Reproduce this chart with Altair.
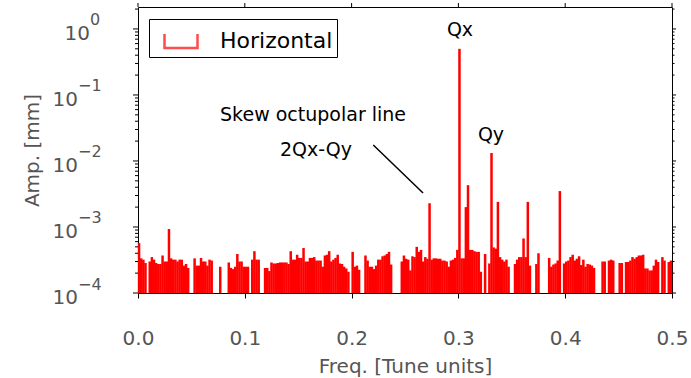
import altair as alt
import pandas as pd

# Spectrum amplitudes, in units of 1e-4 mm, one per frequency bin (0 = below the 1e-4 floor)
amp_e4 = [
    5.7, 3.35, 3.2, 2.85, 0, 3.0, 3.5, 3.2, 2.85, 2.75,
    2.75, 3.7, 3.0, 3.0, 9.3, 3.35, 3.2, 3.2, 3.0, 3.2,
    3.2, 2.6, 2.75, 2.4, 0, 0, 3.35, 2.6, 2.6, 3.4,
    3.0, 3.0, 2.6, 3.2, 3.1, 0, 0, 0, 2.5, 0,
    0, 0, 2.9, 2.4, 2.3, 2.5, 3.9, 3.0, 3.0, 2.5,
    2.5, 2.5, 0, 3.2, 4.3, 3.2, 3.2, 0, 0, 2.4,
    2.4, 2.15, 2.9, 2.8, 2.8, 2.85, 2.9, 2.9, 2.9, 2.9,
    2.75, 4.3, 3.2, 3.2, 3.8, 3.4, 3.4, 4.8, 3.0, 3.0,
    3.4, 3.4, 3.5, 3.1, 3.1, 3.1, 2.5, 3.7, 3.8, 4.3,
    3.0, 3.2, 3.4, 3.8, 2.8, 2.75, 2.5, 2.35, 2.1, 0,
    4.2, 2.5, 2.6, 2.25, 0, 0, 3.7, 3.1, 2.5, 2.5,
    2.3, 2.6, 3.2, 3.2, 3.6, 3.7, 3.9, 4.2, 2.7, 0,
    0, 0, 0, 3.0, 3.7, 3.3, 3.2, 2.2, 3.6, 3.5,
    5.0, 4.2, 4.5, 3.0, 3.5, 3.3, 22.9, 3.2, 3.35, 3.35,
    3.3, 3.3, 3.1, 3.1, 3.0, 2.5, 3.1, 3.2, 3.4, 4.5,
    5000, 3.35, 3.35, 20, 43, 4.5, 4.5, 4.3, 4.2, 4.2,
    2.1, 0, 3.9, 0, 2.8, 132, 4.9, 4.7, 24, 3.5,
    3.2, 3.0, 3.2, 2.5, 0, 0, 2.75, 3.2, 3.5, 3.5,
    6.7, 3.5, 24, 2.6, 0, 0, 2.75, 4.0, 0, 0,
    0, 0, 3.4, 2.5, 2.7, 2.8, 3.1, 35, 0, 2.8,
    3.0, 3.1, 3.5, 3.8, 3.1, 3.3, 3.6, 2.65, 3.2, 2.5,
    2.75, 2.7, 2.6, 2.4, 0, 0, 0, 3.0, 3.0, 0,
    3.1, 3.2, 3.1, 0, 0, 2.85, 2.85, 0, 2.95, 2.95,
    3.1, 3.5, 3.3, 3.5, 3.7, 3.7, 3.8, 2.35, 2.35, 2.2,
    2.2, 2.6, 3.2, 2.95, 0, 3.5, 3.1, 0, 2.95, 3.1,
]
freq_step = 0.002
series_name = "Horizontal"

x_ticks = [0.0, 0.1, 0.2, 0.3, 0.4, 0.5]
y_decades = [1.0, 0.1, 0.01, 0.001, 0.0001]
y_exponents = ["0", "\u22121", "\u22122", "\u22123", "\u22124"]
y_minor = [m * 10.0 ** k for k in range(-4, 1) for m in range(2, 10) if m * 10.0 ** k < 2.15]

ann_labels = ["Qx", "Qy", "Skew octupolar line", "2Qx-Qy"]
ann_x = [0.3015, 0.3305, 0.1639, 0.1667]
ann_y = [0.783, 0.0198, 0.0398, 0.01175]

arrow_x1, arrow_y1 = [0.2203], [0.01745]
arrow_x2, arrow_y2 = [0.2669], [0.00327]

spec = pd.DataFrame({
    "freq": [round((i + 0.5) * freq_step, 4) for i in range(len(amp_e4))],
    "amp": [a * 1e-4 for a in amp_e4],
    "series": series_name,
})
spec = spec[spec["amp"] > 1e-4]

dec = pd.DataFrame({"val": y_decades, "exp": y_exponents})
dec_top = dec[dec["exp"] == "0"]
dec_rest = dec[dec["exp"] != "0"]
minor_df = pd.DataFrame({"val": y_minor})
major_df = pd.DataFrame({"val": y_decades})
xt_df = pd.DataFrame({"t": x_ticks})
ann_df = pd.DataFrame({"label": ann_labels, "x": ann_x, "y": ann_y})
arrow_df = pd.DataFrame({"x1": arrow_x1, "y1": arrow_y1, "x2": arrow_x2, "y2": arrow_y2})

FONT = "DejaVu Sans"
GRAY = "#555555"
W, H = 534, 286

xscale = alt.Scale(domain=[0, 0.5], nice=False, zero=False, padding=0)
yscale = alt.Scale(type="log", domain=[1e-4, 2.15], nice=False, padding=0)

x_axis = alt.Axis(
    values=x_ticks, format=".1f", title="Freq. [Tune units]", tickSize=5,
    tickColor="black", domain=False, grid=False, labelFlush=False,
    labelFontSize=20, labelColor=GRAY, labelFont=FONT, labelPadding=30,
    titleFontSize=20, titleColor=GRAY, titleFont=FONT, titleFontWeight="normal",
    titlePadding=8)
y_axis = alt.Axis(
    title="Amp. [mm]", labels=False, ticks=False, domain=False, grid=False,
    titleFontSize=20, titleColor=GRAY, titleFont=FONT, titleFontWeight="normal",
    titlePadding=96)


def X(field):
    return alt.X(field, scale=xscale, axis=x_axis)


def Y(field):
    return alt.Y(field, scale=yscale, axis=y_axis)


bars = alt.Chart(spec).mark_bar(color="#ff0000", size=2.5).encode(
    x=X("freq:Q"), y=Y("amp:Q"), y2=alt.datum(1e-4),
)

SYM = "M-1,-0.42L-1,0.42L1,0.42L1,-0.42"
legend_layer = alt.Chart(spec).transform_filter("false").mark_point(
    shape=SYM, filled=False, strokeWidth=2.5, size=1089
).encode(
    x=X("freq:Q"), y=Y("amp:Q"),
    color=alt.Color("series:N", scale=alt.Scale(domain=[series_name], range=["#ff0000"]),
                    legend=alt.Legend(
                        title=None, orient="none", legendX=11, legendY=12,
                        strokeColor="black", fillColor="white", padding=4,
                        labelFontSize=22, labelFont=FONT, labelColor="black",
                        symbolOffset=10, labelOffset=21, symbolSize=1089,
                        symbolStrokeWidth=2.5, symbolType=SYM,
                        cornerRadius=0)),
)


def yticks(df, x0, x1):
    return alt.Chart(df).mark_rule(color="black", strokeWidth=1).encode(
        y=Y("val:Q"), x=alt.value(x0), x2=alt.value(x1))


left_major = yticks(major_df, -5, 0)
left_minor = yticks(minor_df, -3, 0)
right_major = yticks(major_df, W, W + 4)
right_minor = yticks(minor_df, W, W + 2.5)

top_ticks = alt.Chart(xt_df).mark_rule(color="black", strokeWidth=1).encode(
    x=X("t:Q"), y=alt.value(0), y2=alt.value(-4))


def ylabels(df, xpos):
    base = alt.Chart(df).mark_text(text="10", align="right", baseline="alphabetic", dy=11,
                                   fontSize=20, color=GRAY, font=FONT).encode(
        y=Y("val:Q"), x=alt.value(xpos))
    sup = alt.Chart(df).mark_text(align="left", baseline="alphabetic", dy=-3.5,
                                  fontSize=16, color=GRAY, font=FONT).encode(
        y=Y("val:Q"), x=alt.value(xpos), text="exp:N")
    return [base, sup]


ann = alt.Chart(ann_df).mark_text(align="center", baseline="alphabetic", fontSize=19,
                                  color="black", font=FONT).encode(
    x=X("x:Q"), y=Y("y:Q"), text="label:N")

arrow = alt.Chart(arrow_df).mark_rule(color="black", strokeWidth=1.5).encode(
    x=X("x1:Q"), y=Y("y1:Q"), x2="x2:Q", y2="y2:Q")

chart = alt.layer(
    bars, legend_layer, left_major, left_minor, right_major, right_minor, top_ticks,
    *ylabels(dec_top, -48), *ylabels(dec_rest, -60), ann, arrow
).properties(
    width=W, height=H,
    padding={"left": 138, "top": 7, "right": 19, "bottom": 85},
    autosize=alt.AutoSizeParams(type="none"),
    background="white",
).configure_view(stroke="black", strokeWidth=1)

chart.save("out.html", embed_options={"renderer": "svg", "actions": False})
